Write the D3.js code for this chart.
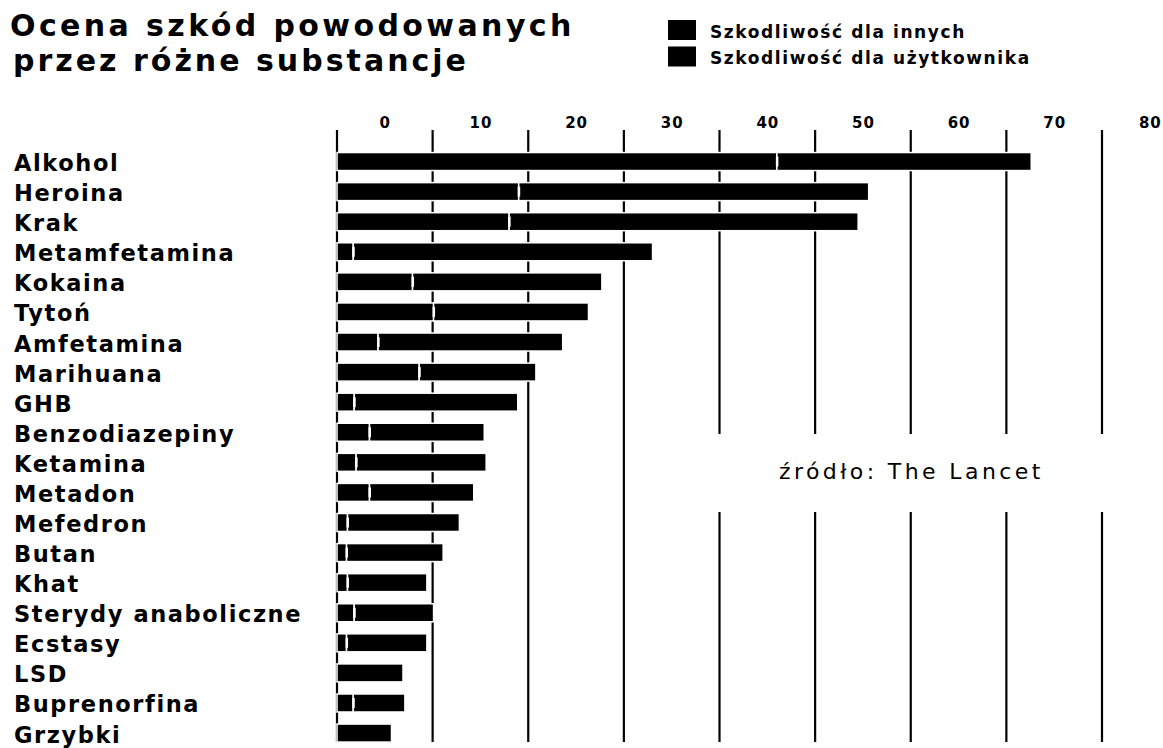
<!DOCTYPE html>
<html>
<head>
<meta charset="utf-8">
<script src="https://cdn.jsdelivr.net/npm/d3@7"></script>
<style>
  html, body { margin: 0; padding: 0; background: #fff; }
  svg { display: block; }
  text { font-family: "DejaVu Sans", sans-serif; fill: #000; }
</style>
</head>
<body>
<svg id="chart" width="1163" height="748"></svg>
<script>
const categories = ["Alkohol","Heroina","Krak","Metamfetamina","Kokaina","Tytoń","Amfetamina","Marihuana","GHB","Benzodiazepiny","Ketamina","Metadon","Mefedron","Butan","Khat","Sterydy anaboliczne","Ecstasy","LSD","Buprenorfina","Grzybki"];
const harmOthers = [46, 19, 18, 1.7, 7.9, 10.1, 4.3, 8.6, 1.8, 3.4, 2.0, 3.4, 1.1, 1.0, 1.1, 1.8, 1.0, 0, 1.7, 0];
const harmUsers  = [26.6, 36.6, 36.5, 31.3, 19.8, 16.2, 19.3, 12.2, 17.1, 12.0, 13.6, 10.9, 11.7, 10.1, 8.3, 8.3, 8.4, 6.9, 5.4, 5.7];
const tickValues = [0, 10, 20, 30, 40, 50, 60, 70, 80];
const seriesKeys = ["others", "users"];
const legendLabels = ["Szkodliwość dla innych", "Szkodliwość dla użytkownika"];
const titleLines = ["Ocena szkód powodowanych", "przez różne substancje"];
const sourceText = "źródło: The Lancet";

const table = categories.map((c, i) => ({ name: c, others: harmOthers[i], users: harmUsers[i] }));

const svg = d3.select("#chart");
const x = d3.scaleLinear().domain([0, 80]).range([337, 1102]);
const y = d3.scaleBand().domain(categories).range([146.5, 748.1]).padding(0);
const halfStep = x(5) - x(0);

// Title
svg.append("text").attr("x", 10).attr("y", 36)
  .attr("font-size", 30).attr("font-weight", "bold").attr("letter-spacing", 3.4)
  .text(titleLines[0]);
svg.append("text").attr("x", 13).attr("y", 71)
  .attr("font-size", 30).attr("font-weight", "bold").attr("letter-spacing", 3.0)
  .text(titleLines[1]);

// Legend
const legend = svg.append("g");
legendLabels.forEach((lab, i) => {
  legend.append("rect").attr("x", 668).attr("y", 20 + i * 26.5).attr("width", 28).attr("height", 20).attr("fill", "#000");
  legend.append("text").attr("x", 710).attr("y", 38 + i * 26)
    .attr("font-size", 17).attr("font-weight", "bold").attr("letter-spacing", 1.6)
    .text(lab);
});

// Gridlines
svg.append("g").selectAll("line").data(tickValues).join("line")
  .attr("x1", d => x(d)).attr("x2", d => x(d))
  .attr("y1", 130).attr("y2", 742)
  .attr("stroke", "#000").attr("stroke-width", 2.2);

// Tick labels (centered between gridlines, as in the original)
const axis = d3.axisTop(x).tickValues(tickValues).tickSize(0).tickPadding(0);
const ag = svg.append("g").attr("transform", "translate(0,128)").call(axis);
ag.select(".domain").remove();
ag.selectAll("text")
  .attr("x", halfStep).attr("y", 0).attr("dy", 0)
  .attr("font-family", "DejaVu Sans").attr("font-size", 15).attr("font-weight", "bold")
  .attr("letter-spacing", 1).attr("fill", "#000");

// Mask behind source note
svg.append("rect").attr("x", 700).attr("y", 434).attr("width", 463).attr("height", 78).attr("fill", "#fff");
svg.append("text").attr("x", 779).attr("y", 479)
  .attr("font-size", 22).attr("letter-spacing", 3.4)
  .text(sourceText);

// Bars
const stacked = d3.stack().keys(seriesKeys)(table);
const barH = 18;
svg.append("g").selectAll("g").data(stacked).join("g")
  .attr("fill", "#000")
  .selectAll("rect").data(d => d).join("rect")
  .attr("x", d => x(d[0]))
  .attr("width", d => Math.max(0, x(d[1]) - x(d[0])))
  .attr("y", d => y(d.data.name) + (y.bandwidth() - barH) / 2)
  .attr("height", barH)
  .attr("stroke", "#fff").attr("stroke-width", 1.5);

// White separators between segments
svg.append("g").selectAll("rect").data(table.filter(d => d.others > 0)).join("rect")
  .attr("x", d => x(d.others) - 1)
  .attr("y", d => y(d.name) + y.bandwidth() / 2 - 5)
  .attr("width", 2.5).attr("height", 10)
  .attr("fill", "#fff");

// Category labels
svg.append("g").selectAll("text").data(categories).join("text")
  .attr("x", 14)
  .attr("y", d => y(d) + y.bandwidth() / 2 + 9.5)
  .attr("font-size", 22.5).attr("font-weight", "bold").attr("letter-spacing", 1.6)
  .text(d => d);
</script>
</body>
</html>
